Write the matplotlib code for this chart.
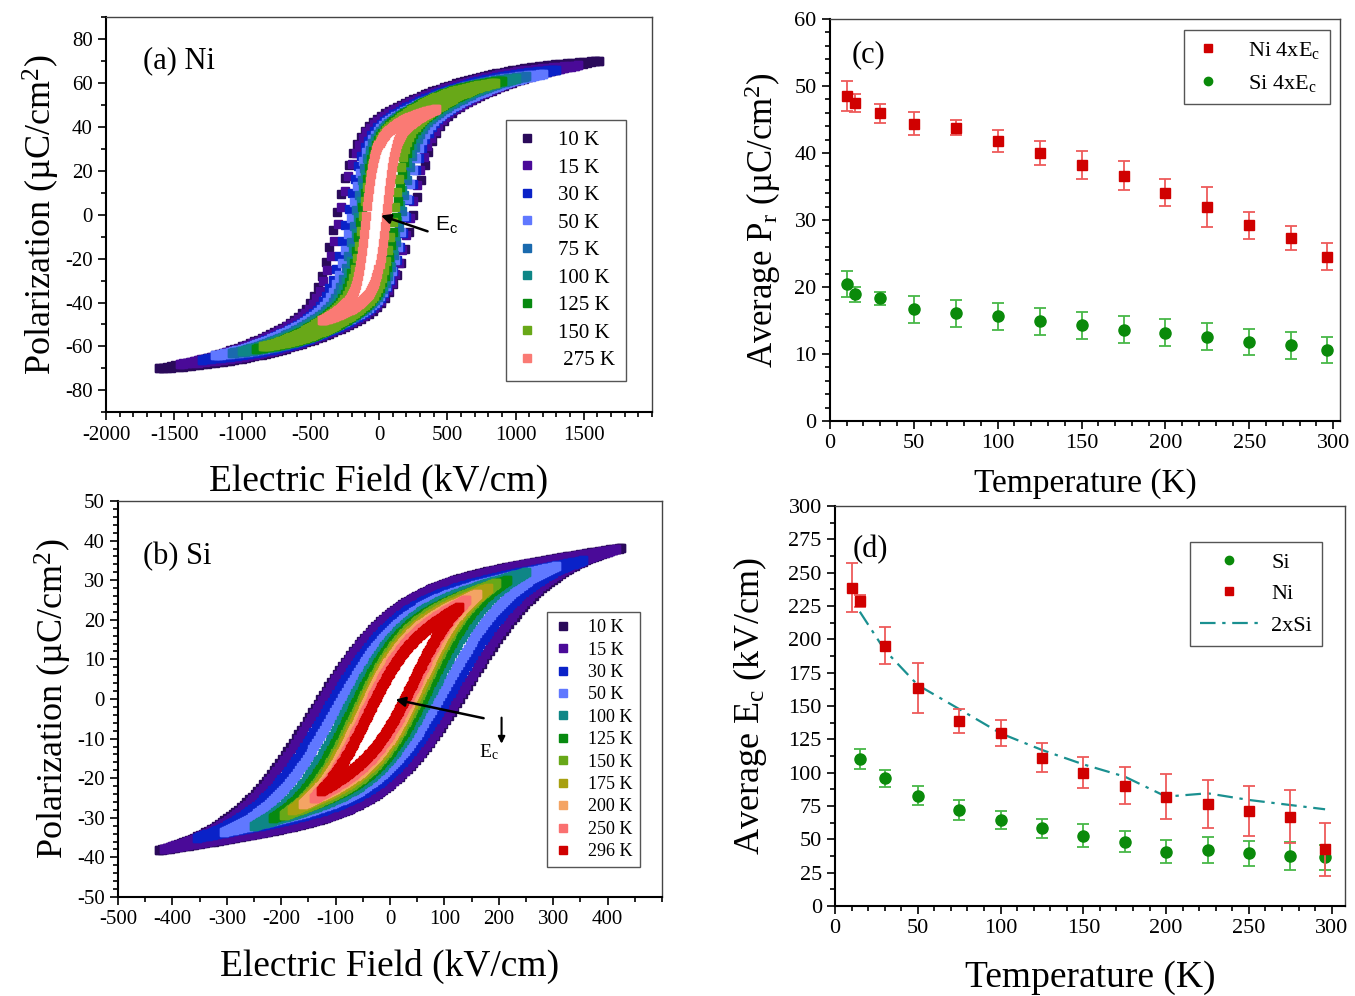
import numpy as np
import matplotlib
matplotlib.use("Agg")
import matplotlib.pyplot as plt
from matplotlib.ticker import MultipleLocator

plt.rcParams['font.family'] = ['Liberation Serif', 'DejaVu Serif']
plt.rcParams['mathtext.fontset'] = 'custom'
plt.rcParams['mathtext.rm'] = 'Liberation Serif'
plt.rcParams['mathtext.it'] = 'Liberation Serif:italic'
plt.rcParams['mathtext.sf'] = 'Liberation Sans'
plt.rcParams['axes.unicode_minus'] = False

# ---- (a) Ni hysteresis loops: per-temperature loop parameters
ni_labels = ['10 K', '15 K', '30 K', '50 K', '75 K', '100 K', '125 K', '150 K', ' 275 K']
ni_colors = ['#2a0a5a', '#4a0a98', '#0a22c8', '#6078ff', '#1a6aae', '#0e8686', '#078a10', '#68a818', '#fa7a74']
ni_emax = [1610, 1460, 1300, 1200, 1080, 1000, 900, 850, 420]
ni_pmax = [70, 68, 66, 64, 63, 62, 61, 60, 48]
ni_ec = [285, 265, 222, 198, 170, 150, 130, 113, 75]
ni_shift = [-32, -30, -15, -8, -5, -4, -3, -3, -22]
ni_width = [150, 140, 125, 110, 100, 92, 86, 80, 62]
ni_slow = [1100, 1000, 900, 830, 750, 700, 630, 600, 350]
ni_beta = [0.5, 0.5, 0.5, 0.5, 0.5, 0.5, 0.5, 0.5, 0.4]

# ---- (b) Si hysteresis loops
si_labels = ['10 K', '15 K', '30 K', '50 K', '100 K', '125 K', '150 K', '175 K', '200 K', '250 K', '296 K']
si_colors = ['#2a0a5a', '#4a0a98', '#0a22c8', '#6078ff', '#0e8686', '#078a10', '#68a818', '#a8a010',
             '#f4a464', '#fa7070', '#d00000']
si_emax = [425, 415, 355, 305, 250, 215, 195, 180, 160, 140, 127]
si_pmax = [38.2, 37.8, 35, 33.5, 32, 30, 29.3, 28, 26.5, 25, 23.2]
si_ec = [145, 140, 120, 105, 85, 75, 65, 60, 55, 50, 42]
si_width = [150, 145, 130, 120, 105, 95, 90, 85, 80, 78, 75]
si_lin = [0.3, 0.3, 0.32, 0.34, 0.38, 0.4, 0.42, 0.45, 0.48, 0.5, 0.55]

# ---- (c) average remanent polarization
temp_c = [10, 15, 30, 50, 75, 100, 125, 150, 175, 200, 225, 250, 275, 296]
ni_pr = [48.5, 47.5, 45.9, 44.4, 43.8, 41.8, 40.0, 38.2, 36.6, 34.1, 31.9, 29.2, 27.3, 24.5]
ni_pr_err = [2.2, 1.35, 1.4, 1.7, 1.1, 1.65, 1.85, 2.15, 2.15, 2.0, 3.0, 2.0, 1.8, 2.0]
si_pr = [20.4, 18.9, 18.3, 16.7, 16.1, 15.6, 14.9, 14.3, 13.6, 13.2, 12.6, 11.8, 11.3, 10.6]
si_pr_err = [1.95, 1.1, 1.0, 2.0, 2.0, 2.0, 2.0, 2.0, 2.0, 2.0, 2.0, 2.0, 2.0, 2.0]

# ---- (d) average coercive field
temp_ni_d = [10, 15, 30, 50, 75, 100, 125, 150, 175, 200, 225, 250, 275, 296]
ni_ec_avg = [238.7, 229, 195.2, 163.7, 138.7, 130, 111.2, 100, 90, 82, 76.7, 71.2, 67, 42.5]
ni_ec_err = [18.5, 4.5, 14, 18.7, 8.7, 9.7, 11, 11.9, 13.9, 17, 18.1, 19.1, 19.7, 20]
temp_si_d = [15, 30, 50, 75, 100, 125, 150, 175, 200, 225, 250, 275, 296]
si_ec_avg = [110, 95.7, 82.7, 72.2, 64.5, 58.2, 52.7, 48.2, 40.7, 42, 39.5, 37.7, 36.5]
si_ec_err = [7.5, 6.2, 7, 7.5, 7, 7, 8.5, 8, 8.5, 9.5, 9.4, 10.4, 9.4]
two_si = [220.7, 192, 165.7, 147.7, 129.5, 117, 106.2, 97, 82, 84.5, 79.5, 75.7, 72.5]

RED = '#d00000'
RED_ERR = '#ee5a5a'
GREEN = '#0a8a0a'
GREEN_ERR = '#48b848'


def loop(emax, pmax, ec, w, n, shift=0, lin=0.0, beta=0.0, wslow=1.0):
    # upper (descending) and lower (ascending) branch, pinned to the loop tips
    e = np.linspace(-emax, emax, n)
    out = []
    for sgn in (1, -1):
        x = e - shift + sgn * ec
        g = (1 - beta) * np.tanh(x / w) + beta * np.tanh(x / wslow) + lin * e / emax
        out.append(-pmax + 2 * pmax * (g - g[0]) / (g[-1] - g[0]))
    return e, out[0], out[1]


def style(ax, xmin, ymin, size):
    ax.xaxis.set_minor_locator(MultipleLocator(xmin))
    ax.yaxis.set_minor_locator(MultipleLocator(ymin))
    ax.tick_params(which='both', direction='out', top=False, right=False, width=1.2,
                   labelsize=size, colors='k')
    ax.tick_params(which='major', length=6)
    ax.tick_params(which='minor', length=3.5)
    for s in ['left', 'bottom']:
        ax.spines[s].set_linewidth(1.5)
    for s in ['top', 'right']:
        ax.spines[s].set_linewidth(1.0)
        ax.spines[s].set_color('#444444')


fig = plt.figure(figsize=(13.55, 9.96), dpi=100)

# (a)
ax = fig.add_axes([0.0782, 0.586, 0.403, 0.397])
for i in range(len(ni_labels)):
    e, up, lo = loop(ni_emax[i], ni_pmax[i], ni_ec[i], ni_width[i], 112, shift=ni_shift[i],
                     beta=ni_beta[i], wslow=ni_slow[i])
    ax.plot(e, up, ls='none', marker='s', ms=5.8, color=ni_colors[i], label=ni_labels[i])
    ax.plot(e, lo, ls='none', marker='s', ms=5.8, color=ni_colors[i])
ax.set_xlim(-2000, 2000)
ax.set_ylim(-90, 90)
ax.set_xticks(np.arange(-2000, 1501, 500))
ax.set_yticks(np.arange(-80, 81, 20))
style(ax, 100, 10, 15)
ax.set_xlabel('Electric Field (kV/cm)', fontsize=27, labelpad=14)
ax.set_ylabel('Polarization (µC/cm$^2$)', fontsize=26, labelpad=2)
ax.text(0.068, 0.89, '(a) Ni', transform=ax.transAxes, fontsize=22, va='center')
ax.annotate('', xy=(-5, 0), xytext=(375, -8),
            arrowprops=dict(arrowstyle='-|>', color='k', lw=1.8, mutation_scale=14))
ax.text(410, -5, r'$\mathsf{E_c}$', fontsize=15, va='center')
ax.legend(loc='upper right', bbox_to_anchor=(0.952, 0.739), fontsize=15, frameon=True,
          fancybox=False, edgecolor='#555555', framealpha=1, labelspacing=0.38,
          handlelength=1.0, handletextpad=1.0, borderpad=0.5, borderaxespad=0)

# (b)
ax = fig.add_axes([0.0871, 0.0994, 0.4015, 0.3976])
for i in range(len(si_labels)):
    e, up, lo = loop(si_emax[i], si_pmax[i], si_ec[i], si_width[i], 170, lin=si_lin[i])
    ax.plot(e, up, ls='none', marker='s', ms=5.5, color=si_colors[i], label=si_labels[i])
    ax.plot(e, lo, ls='none', marker='s', ms=5.5, color=si_colors[i])
ax.set_xlim(-500, 500)
ax.set_ylim(-50, 50)
ax.set_xticks(np.arange(-500, 401, 100))
ax.set_yticks(np.arange(-50, 51, 10))
style(ax, 50, 2, 15)
ax.set_xlabel('Electric Field (kV/cm)', fontsize=27, labelpad=14)
ax.set_ylabel('Polarization (µC/cm$^2$)', fontsize=26, labelpad=2)
ax.text(0.046, 0.86, '(b) Si', transform=ax.transAxes, fontsize=22, va='center')
ax.annotate('', xy=(5, 0), xytext=(177, -5),
            arrowprops=dict(arrowstyle='-|>', color='k', lw=1.8, mutation_scale=14))
ax.annotate('', xy=(205, -12), xytext=(205, -4),
            arrowprops=dict(arrowstyle='-|>', color='k', lw=1.5, mutation_scale=10))
ax.text(164, -13.5, 'E$_\\mathrm{c}$', fontsize=14, va='center')
ax.legend(loc='upper right', bbox_to_anchor=(0.96, 0.72), fontsize=13, frameon=True,
          fancybox=False, edgecolor='#555555', framealpha=1, labelspacing=0.3,
          handlelength=1.0, handletextpad=0.9, borderpad=0.4, borderaxespad=0)

# (c)
ax = fig.add_axes([0.6125, 0.5773, 0.3764, 0.4036])
ax.errorbar(temp_c, ni_pr, yerr=ni_pr_err, ls='none', marker='s', ms=7.5, color=RED,
            ecolor=RED_ERR, elinewidth=1.3, capsize=4, capthick=1.3, label='Ni 4xE$_\\mathrm{c}$')
ax.errorbar(temp_c, si_pr, yerr=si_pr_err, ls='none', marker='o', ms=8, color=GREEN,
            ecolor=GREEN_ERR, elinewidth=1.3, capsize=4, capthick=1.3, label='Si 4xE$_\\mathrm{c}$')
ax.set_xlim(0, 304)
ax.set_ylim(0, 60)
ax.set_xticks(np.arange(0, 301, 50))
ax.set_yticks(np.arange(0, 61, 10))
style(ax, 10, 2, 16)
ax.set_xlabel('Temperature (K)', fontsize=24, labelpad=11)
ax.set_ylabel('Average P$_\\mathrm{r}$ (µC/cm$^2$)', fontsize=25, labelpad=8)
ax.text(0.043, 0.91, '(c)', transform=ax.transAxes, fontsize=22, va='center')
h, l = ax.get_legend_handles_labels()
h = [x[0] for x in h]
ax.legend(h, l, loc='upper right', bbox_to_anchor=(0.98, 0.973), fontsize=16, frameon=True,
          fancybox=False, edgecolor='#555555', framealpha=1, labelspacing=0.55,
          handlelength=1.2, handletextpad=1.2, borderpad=0.45, borderaxespad=0, markerscale=0.75)

# (d)
ax = fig.add_axes([0.6162, 0.0904, 0.3764, 0.4016])
ax.plot(temp_si_d, two_si, ls=(0, (7, 3, 1.5, 3)), color='#1a9090', lw=1.6, label='2xSi', zorder=1)
ax.errorbar(temp_si_d, si_ec_avg, yerr=si_ec_err, ls='none', marker='o', ms=8, color=GREEN,
            ecolor=GREEN_ERR, elinewidth=1.3, capsize=4, capthick=1.3, label='Si', zorder=2)
ax.errorbar(temp_ni_d, ni_ec_avg, yerr=ni_ec_err, ls='none', marker='s', ms=7.5, color=RED,
            ecolor=RED_ERR, elinewidth=1.3, capsize=4, capthick=1.3, label='Ni', zorder=3)
ax.set_xlim(0, 308)
ax.set_ylim(0, 300)
ax.set_xticks(np.arange(0, 301, 50))
ax.set_yticks(np.arange(0, 301, 25))
style(ax, 10, 12.5, 16)
ax.set_xlabel('Temperature (K)', fontsize=27, labelpad=16)
ax.set_ylabel('Average E$_\\mathrm{c}$ (kV/cm)', fontsize=26, labelpad=14)
ax.text(0.035, 0.89, '(d)', transform=ax.transAxes, fontsize=22, va='center')
h, l = ax.get_legend_handles_labels()
hd = dict(zip(l, h))
hs = [hd['Si'][0], hd['Ni'][0], hd['2xSi']]
ax.legend(hs, ['Si', 'Ni', '2xSi'], loc='upper right', bbox_to_anchor=(0.955, 0.91), fontsize=16,
          frameon=True, fancybox=False, edgecolor='#555555', framealpha=1, labelspacing=0.5,
          handlelength=2.6, handletextpad=0.6, borderpad=0.45, borderaxespad=0, markerscale=0.75)

fig.savefig('out.png', dpi=100)
